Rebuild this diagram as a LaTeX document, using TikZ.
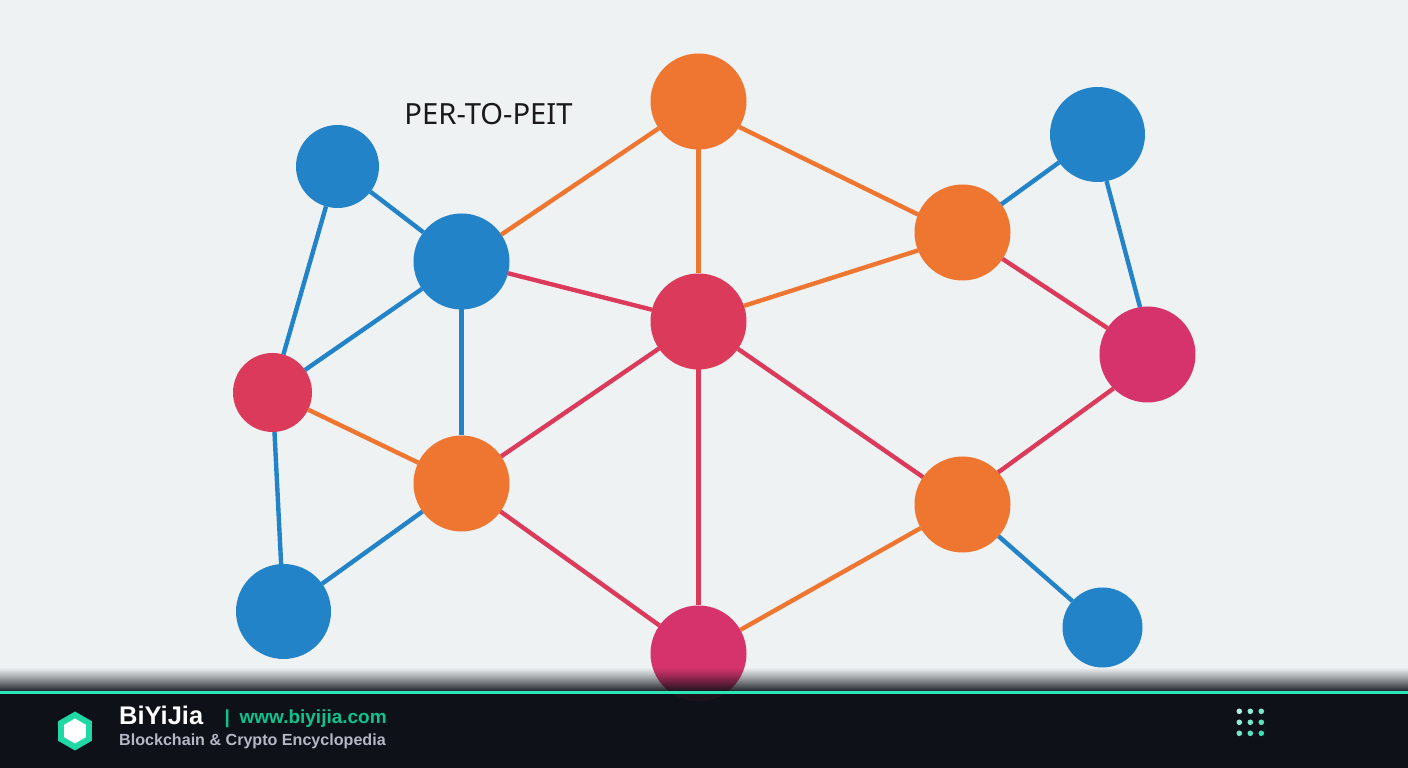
\documentclass[tikz,border=0pt]{standalone}
\usepackage{fontspec}
\setmainfont{Liberation Sans}
\newfontfamily\labelfont{Noto Sans}
\usetikzlibrary{shapes.geometric}
\definecolor{bgcol}{HTML}{EFF2F3}
\definecolor{bluecol}{HTML}{2383C9}
\definecolor{orangecol}{HTML}{EE7631}
\definecolor{redcol}{HTML}{DB3A5A}
\definecolor{magcol}{HTML}{D6336C}
\definecolor{footcol}{HTML}{0E1118}
\definecolor{mintcol}{HTML}{1FD8A4}
\definecolor{linecol}{HTML}{2CE6B5}
\definecolor{urlcol}{HTML}{0BC48E}
\definecolor{subcol}{HTML}{B4B8C6}
\tikzset{
    peer/.style={circle,inner sep=0pt,outer sep=0pt,minimum size=#1},
    link/.style={line width=1.25pt},
    hexa/.style={regular polygon,regular polygon sides=6,shape border rotate=30,inner sep=0pt,outer sep=0pt,minimum size=#1}
}
\begin{document}
\begin{tikzpicture}
    \useasboundingbox (0,0) rectangle (14.08,7.68);
    \fill[bgcol] (0,0) rectangle (14.08,7.68);
    \fill[footcol] (0,0) rectangle (14.08,0.76);

    % Peers
    \begin{scope}[xshift=0.05mm,yshift=-0.05mm]
    \node[peer=0.96cm,fill=orangecol] (top) at (6.98,6.67) {};
    \node[peer=0.95cm,fill=bluecol] (blueTR) at (10.97,6.34) {};
    \node[peer=0.96cm,fill=orangecol] (orangeR) at (9.62,5.36) {};
    \node[peer=0.96cm,fill=magcol] (magR) at (11.47,4.14) {};
    \node[peer=0.96cm,fill=orangecol] (orangeBR) at (9.62,2.64) {};
    \node[peer=0.80cm,fill=bluecol] (blueBR) at (11.02,1.41) {};
    \node[peer=0.96cm,fill=magcol] (bottom) at (6.98,1.15) {};
    \node[peer=0.96cm,fill=redcol] (centre) at (6.98,4.47) {};
    \node[peer=0.96cm,fill=bluecol] (hub) at (4.61,5.07) {};
    \node[peer=0.83cm,fill=bluecol] (blueTL) at (3.37,6.02) {};
    \node[peer=0.79cm,fill=redcol] (redL) at (2.72,3.76) {};
    \node[peer=0.96cm,fill=orangecol] (orangeL) at (4.61,2.85) {};
    \node[peer=0.95cm,fill=bluecol] (blueBL) at (2.83,1.57) {};
    \end{scope}

    % Links
    \foreach \a/\b/\c in {blueTL/hub/bluecol,blueTL/redL/bluecol,hub/redL/bluecol,hub/orangeL/bluecol,
        redL/blueBL/bluecol,blueBL/orangeL/bluecol,orangeR/blueTR/bluecol,blueTR.281/magR.99/bluecol,orangeBR/blueBR/bluecol,
        redL/orangeL/orangecol,hub/top/orangecol,top/centre/orangecol,top.328/orangeR.158/orangecol,
        centre.19/orangeR.202/orangecol,orangeBR/bottom/orangecol,
        hub/centre/redcol,orangeR/magR/redcol,magR.225/orangeBR.42/redcol,centre/orangeBR/redcol,
        centre/bottom/redcol,centre/orangeL/redcol,orangeL/bottom/redcol}
        \draw[link,\c] (\a) -- (\b);

    \node[font=\labelfont\fontsize{8.3pt}{10pt}\selectfont,text=black!90] (title) at (4.885,6.54) {PER-TO-PEIT};

    % Shadow above the footer
    \foreach \i in {0,...,23}
        \fill[footcol,opacity={0.92*((\i+1)/24)^1.15}] (0,{1.00-\i*0.01}) rectangle (14.08,{0.99-\i*0.01});

    % Footer
    \fill[footcol,opacity=0.93] (0,0) rectangle (14.08,0.76);
    \fill[linecol] (0,0.74) rectangle (14.08,0.765);

    \node[hexa=0.39cm,fill=mintcol] (logo) at (0.75,0.37) {};
    \node[hexa=0.25cm,fill=white] (logoin) at (0.75,0.37) {};
    \node[anchor=base west,inner sep=0pt,text=white,font=\bfseries\fontsize{7.25pt}{8pt}\selectfont] (brand) at (1.185,0.43) {BiYiJia};
    \node[anchor=base west,inner sep=0pt,text=urlcol,font=\bfseries\fontsize{5.4pt}{6pt}\selectfont] (sep) at (2.24,0.44) {|};
    \node[anchor=base west,inner sep=0pt,text=urlcol,font=\bfseries\fontsize{5.4pt}{6pt}\selectfont] (url) at (2.39,0.44) {www.biyijia.com};
    \node[anchor=base west,inner sep=0pt,text=subcol,font=\bfseries\fontsize{4.58pt}{5pt}\selectfont] (sub) at (1.185,0.22) {Blockchain \& Crypto Encyclopedia};

    % Menu dots
    \foreach \i in {0,1,2}
        \foreach \j in {0,1,2}
            \fill[mintcol!\the\numexpr 35+13*(\i+\j)\relax!white] ({12.393+\i*0.11},{0.567-\j*0.11}) circle (0.028);
\end{tikzpicture}
\end{document}
